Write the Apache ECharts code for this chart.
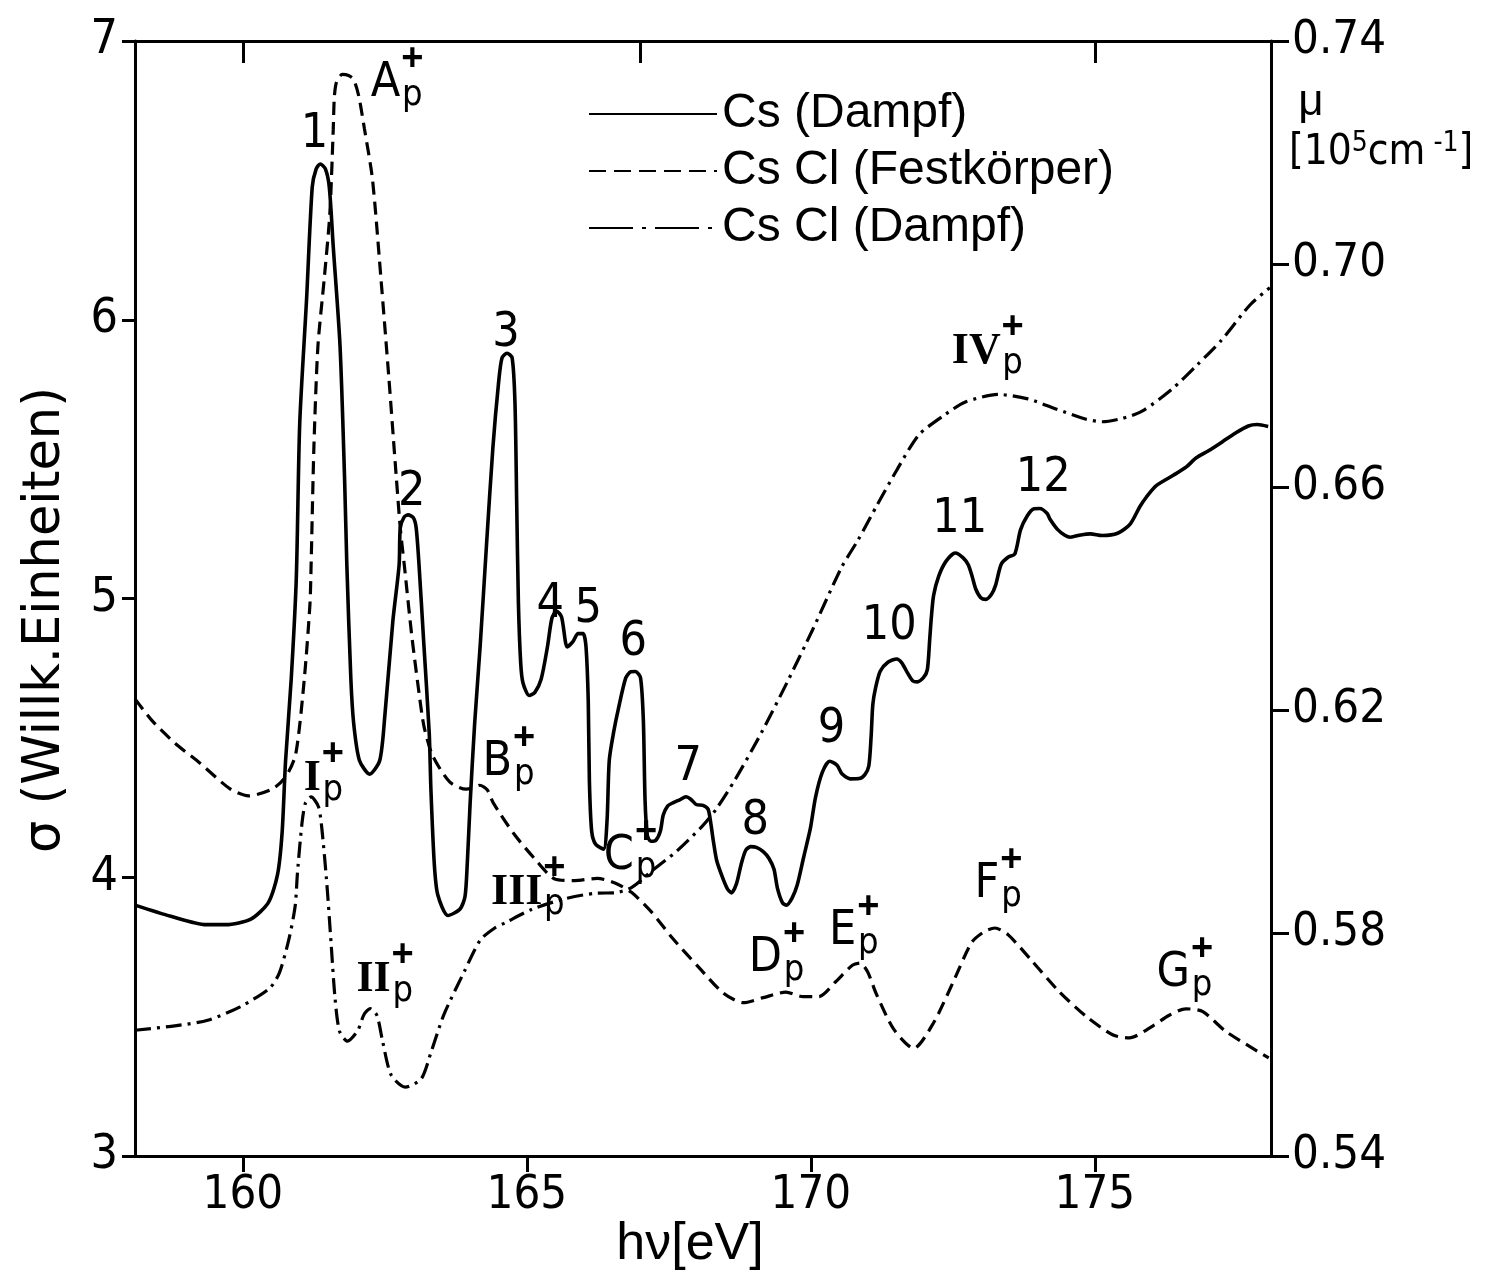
<!DOCTYPE html>
<html>
<head>
<meta charset="utf-8">
<script src="https://cdn.jsdelivr.net/npm/echarts@6/dist/echarts.min.js"></script>
<style>
  html, body { margin: 0; padding: 0; background: #fff; }
  #chart { width: 1493px; height: 1273px; }
</style>
</head>
<body>
<div id="chart"></div>
<script>
// Photon energy hν [eV] and cross section σ (arb. units) of Cs vapour
const energyCs = [158.1, 158.73, 159.35, 159.70, 160.14, 160.45, 160.61, 160.69, 160.75, 160.85,
  160.94, 161.00, 161.12, 161.22, 161.29, 161.36, 161.45, 161.52, 161.59, 161.71,
  161.79, 161.83, 161.90, 161.95, 162.05, 162.23, 162.41, 162.50, 162.64, 162.75,
  162.77, 162.84, 162.91, 163.00, 163.05, 163.10, 163.18, 163.28, 163.31, 163.37,
  163.43, 163.61, 163.82, 163.91, 163.95, 164.00, 164.08, 164.18, 164.29, 164.40,
  164.50, 164.56, 164.65, 164.74, 164.79, 164.82, 164.85, 164.89, 164.93, 165.04,
  165.14, 165.25, 165.36, 165.44, 165.52, 165.61, 165.71, 165.81, 165.90, 165.99,
  166.04, 166.08, 166.10, 166.14, 166.21, 166.35, 166.41, 166.45, 166.53, 166.61,
  166.74, 166.83, 166.91, 167.00, 167.05, 167.08, 167.12, 167.18, 167.27, 167.35,
  167.40, 167.48, 167.57, 167.69, 167.80, 167.89, 167.98, 168.10, 168.19, 168.24,
  168.28, 168.34, 168.44, 168.53, 168.60, 168.69, 168.77, 168.85, 168.94, 169.04,
  169.17, 169.26, 169.35, 169.41, 169.50, 169.57, 169.67, 169.76, 169.87, 169.99,
  170.08, 170.20, 170.33, 170.46, 170.55, 170.69, 170.85, 170.95, 171.02, 171.06,
  171.09, 171.14, 171.22, 171.36, 171.51, 171.60, 171.70, 171.79, 171.87, 171.98,
  172.05, 172.09, 172.12, 172.16, 172.25, 172.38, 172.54, 172.68, 172.77, 172.84,
  172.90, 172.99, 173.08, 173.18, 173.25, 173.35, 173.47, 173.59, 173.69, 173.81,
  173.93, 174.03, 174.16, 174.21, 174.34, 174.47, 174.57, 174.75, 174.92, 175.13,
  175.40, 175.62, 175.79, 175.91, 176.08, 176.38, 176.61, 176.78, 177.00, 177.25,
  177.47, 177.70, 177.86, 178.05];
const sigmaCs = [3.90, 3.86, 3.83, 3.83, 3.85, 3.91, 4.01, 4.16, 4.415, 4.71,
  5.075, 5.627, 6.071, 6.476, 6.541, 6.559, 6.542, 6.477, 6.263, 5.905,
  5.429, 5.118, 4.713, 4.552, 4.42, 4.37, 4.42, 4.583, 4.92, 5.121,
  5.253, 5.293, 5.30, 5.29, 5.254, 5.122, 4.853, 4.517, 4.313, 4.045,
  3.937, 3.863, 3.885, 3.931, 4.05, 4.265, 4.552, 4.839, 5.198, 5.539,
  5.772, 5.862, 5.88, 5.863, 5.70, 5.343, 4.985, 4.77, 4.698, 4.652,
  4.663, 4.71, 4.825, 4.929, 4.955, 4.934, 4.826, 4.845, 4.874, 4.874,
  4.827, 4.63, 4.344, 4.165, 4.118, 4.101, 4.201, 4.42, 4.524, 4.604,
  4.715, 4.737, 4.738, 4.716, 4.562, 4.276, 4.15, 4.129, 4.133, 4.166,
  4.223, 4.256, 4.267, 4.278, 4.289, 4.279, 4.261, 4.258, 4.244, 4.19,
  4.133, 4.061, 4.001, 3.958, 3.944, 3.977, 4.045, 4.096, 4.11, 4.107,
  4.09, 4.068, 4.029, 3.961, 3.908, 3.90, 3.926, 3.973, 4.07, 4.175,
  4.286, 4.376, 4.416, 4.402, 4.37, 4.353, 4.354, 4.368, 4.40, 4.505,
  4.62, 4.681, 4.739, 4.772, 4.783, 4.769, 4.733, 4.705, 4.701, 4.716,
  4.745, 4.849, 4.932, 5.011, 5.08, 5.134, 5.163, 5.146, 5.121, 5.078,
  5.035, 5.003, 4.997, 5.015, 5.047, 5.123, 5.148, 5.16, 5.246, 5.297,
  5.322, 5.323, 5.305, 5.284, 5.248, 5.227, 5.22, 5.228, 5.232, 5.226,
  5.234, 5.267, 5.329, 5.365, 5.405, 5.442, 5.472, 5.504, 5.53, 5.563,
  5.593, 5.619, 5.624, 5.617];

// CsCl solid: absorption coefficient μ [10^5 cm^-1]
const energyCsClSolid = [158.1, 158.40, 158.81, 159.24, 159.78, 160.10, 160.53, 160.76, 160.93, 161.08,
  161.18, 161.20, 161.25, 161.32, 161.43, 161.53, 161.59, 161.61, 161.65, 161.75,
  161.86, 161.95, 162.04, 162.14, 162.28, 162.43, 162.57, 162.68, 162.77, 162.84,
  162.98, 163.15, 163.20, 163.34, 163.64, 163.93, 164.07, 164.17, 164.30, 164.41,
  164.77, 165.13, 165.49, 165.84, 166.24, 166.54, 166.84, 167.20, 167.56, 168.03,
  168.46, 168.81, 169.16, 169.56, 169.86, 170.14, 170.44, 170.73, 170.87, 171.00,
  171.15, 171.46, 171.81, 172.16, 172.50, 172.83, 173.06, 173.24, 173.47, 173.90,
  174.36, 174.85, 175.32, 175.61, 176.03, 176.30, 176.60, 176.90, 177.31, 178.06];
const muCsClSolid = [0.6220, 0.6181, 0.6140, 0.6105, 0.6058, 0.6046, 0.6059, 0.6081, 0.6121, 0.6255,
  0.6390, 0.6458, 0.6673, 0.6852, 0.6972, 0.7090, 0.7241, 0.7300, 0.7327, 0.7340,
  0.7338, 0.7331, 0.7301, 0.7242, 0.7153, 0.6974, 0.6795, 0.6645, 0.6527, 0.6461,
  0.6327, 0.6193, 0.6165, 0.6118, 0.6071, 0.6058, 0.6061, 0.6065, 0.6057, 0.6033,
  0.5978, 0.5934, 0.5897, 0.5894, 0.5898, 0.5890, 0.5873, 0.5837, 0.5791, 0.5738,
  0.5692, 0.5675, 0.5684, 0.5694, 0.5686, 0.5686, 0.5713, 0.5742, 0.5746, 0.5730,
  0.5691, 0.5627, 0.5593, 0.5639, 0.5711, 0.5783, 0.5803, 0.5809, 0.5797, 0.5749,
  0.5696, 0.5650, 0.5617, 0.5612, 0.5634, 0.5652, 0.5664, 0.5659, 0.5623, 0.5576];

// CsCl vapour: cross section σ (arb. units)
const energyCsClVapour = [158.1, 158.80, 159.38, 159.95, 160.47, 160.64, 160.81, 160.92, 160.96, 161.04,
  161.10, 161.20, 161.33, 161.39, 161.48, 161.55, 161.62, 161.70, 161.84, 162.02,
  162.13, 162.24, 162.36, 162.46, 162.61, 162.86, 163.14, 163.31, 163.54, 163.90,
  164.18, 164.44, 164.62, 165.09, 165.67, 166.24, 166.54, 166.84, 167.19, 167.64,
  168.10, 168.33, 168.67, 169.13, 169.59, 170.03, 170.54, 170.83, 171.17, 171.51,
  171.90, 172.37, 172.72, 173.30, 173.82, 174.30, 174.83, 175.13, 175.48, 175.83,
  176.35, 176.80, 177.22, 177.73, 178.08];
const sigmaCsClVapour = [3.451, 3.467, 3.487, 3.535, 3.602, 3.656, 3.778, 3.897, 4.015, 4.194,
  4.266, 4.288, 4.253, 4.174, 3.97, 3.77, 3.57, 3.448, 3.412, 3.449,
  3.507, 3.529, 3.504, 3.411, 3.29, 3.247, 3.277, 3.371, 3.508, 3.663,
  3.775, 3.819, 3.837, 3.885, 3.923, 3.943, 3.944, 3.963, 4.021, 4.094,
  4.186, 4.244, 4.352, 4.519, 4.703, 4.888, 5.112, 5.21, 5.337, 5.46,
  5.587, 5.661, 5.705, 5.732, 5.716, 5.681, 5.644, 5.634, 5.646, 5.672,
  5.75, 5.838, 5.925, 6.053, 6.115];

// Axis ticks
const energyTicks = [160, 165, 170, 175];
const energyTopTicks = [160, 167, 175];
const sigmaTicks = [3, 4, 5, 6, 7];
const muTicks = [0.54, 0.58, 0.62, 0.66, 0.70, 0.74];

// Numbered Cs resonances (label anchor in hν, σ)
const peakNames = ['1', '2', '3', '4', '5', '6', '7', '8', '9', '10', '11', '12'];
const peakX = [161.26, 162.97, 164.63, 165.41, 166.08, 166.87, 167.84, 169.02, 170.36, 171.38, 172.62, 174.09];
const peakY = [6.663, 5.379, 5.952, 4.98, 4.96, 4.841, 4.393, 4.199, 4.531, 4.901, 5.282, 5.431];

// CsCl structures (label anchor in hν, σ)
const bandNames = ['A', 'B', 'C', 'D', 'E', 'F', 'G', 'I', 'II', 'III', 'IV'];
const bandX = [162.51, 164.48, 166.62, 169.20, 170.56, 173.10, 176.38, 161.22, 162.30, 164.82, 172.91];
const bandY = [6.846, 4.41, 4.076, 3.709, 3.804, 3.973, 3.654, 4.353, 3.632, 3.945, 5.886];

const NUM_FONT = "'DejaVu Sans Condensed', 'Liberation Sans Narrow', 'Liberation Sans', sans-serif";
const TEXT_FONT = "'Liberation Sans', 'DejaVu Sans', sans-serif";
const ROMAN_FONT = "'Liberation Serif', 'DejaVu Serif', serif";
const INK = '#000';

const zip = (xs, ys) => xs.map((x, i) => [x, ys[i]]);
const measureCtx = document.createElement('canvas').getContext('2d');
const textWidth = (text, font) => { measureCtx.font = font; return measureCtx.measureText(text).width; };

const isRoman = name => /^[IV]+$/.test(name);
const bandStyle = name => isRoman(name)
  ? { fontFamily: ROMAN_FONT, fontSize: 44, fontWeight: 'bold' }
  : { fontFamily: NUM_FONT, fontSize: 48, fontWeight: 'normal' };

const bandLetters = bandNames.map((n, i) => ({
  name: n, value: [bandX[i], bandY[i]], label: bandStyle(n)
}));
const bandIndices = bandNames.map((n, i) => {
  const s = bandStyle(n);
  const w = textWidth(n, `${s.fontWeight} ${s.fontSize}px ${s.fontFamily}`);
  return { name: n, value: [bandX[i], bandY[i]], label: { offset: [w / 2 + 12, -6] } };
});

// invisible anchor used by the text-only scatter series
const anchorItem = { color: 'rgba(0,0,0,0)', opacity: 1 };

const chart = echarts.init(document.getElementById('chart'), null, { renderer: 'canvas' });

const axisLine = { show: true, onZero: false, lineStyle: { color: INK, width: 3 } };
const tickStyle = { color: INK, width: 3 };

chart.setOption({
  animation: false,
  backgroundColor: '#fff',
  grid: { left: 135, right: 222, top: 41, bottom: 117, containLabel: false },
  legend: {
    orient: 'vertical', left: 588, top: 89, padding: 0,
    itemWidth: 128, itemHeight: 4, itemGap: 7,
    selectedMode: false,
    itemStyle: { opacity: 0, borderWidth: 0 },
    textStyle: { fontFamily: TEXT_FONT, fontSize: 48, color: INK, lineHeight: 50 },
    data: [
      { name: 'Cs (Dampf)' },
      { name: 'Cs Cl (Festkörper)', lineStyle: { type: [17, 8] } },
      { name: 'Cs Cl (Dampf)', lineStyle: { type: [44, 9, 4, 9] } }
    ]
  },
  xAxis: [
    {
      type: 'value', position: 'bottom', min: 158.1, max: 178.1,
      axisLine, splitLine: { show: false },
      axisTick: { show: true, inside: false, length: 16, lineStyle: tickStyle, customValues: energyTicks },
      axisLabel: { customValues: energyTicks, fontFamily: NUM_FONT, fontSize: 47, color: INK, margin: 16 }
    },
    {
      type: 'value', position: 'top', min: 158.1, max: 178.1,
      axisLine, splitLine: { show: false },
      axisTick: { show: true, inside: true, length: 22, lineStyle: tickStyle, customValues: energyTopTicks },
      axisLabel: { show: false }
    }
  ],
  yAxis: [
    {
      type: 'value', position: 'left', min: 3, max: 7, interval: 1,
      axisLine, splitLine: { show: false },
      axisTick: { show: true, inside: false, length: 13, lineStyle: tickStyle, customValues: sigmaTicks },
      axisLabel: { customValues: sigmaTicks, fontFamily: NUM_FONT, fontSize: 48, color: INK, margin: 17 }
    },
    {
      type: 'value', position: 'right', min: 0.54, max: 0.74,
      axisLine, splitLine: { show: false },
      axisTick: { show: true, inside: false, length: 18, lineStyle: tickStyle, customValues: muTicks },
      axisLabel: {
        customValues: muTicks, formatter: v => v.toFixed(2),
        fontFamily: NUM_FONT, fontSize: 47, color: INK, margin: 21
      }
    }
  ],
  series: [
    {
      name: 'Cs (Dampf)', type: 'line', xAxisIndex: 0, yAxisIndex: 0,
      data: zip(energyCs, sigmaCs), showSymbol: false, symbol: 'none', smooth: 0.25,
      lineStyle: { color: INK, width: 3.6, type: 'solid' }, itemStyle: { color: INK },
      emphasis: { disabled: true }, z: 3
    },
    {
      name: 'Cs Cl (Festkörper)', type: 'line', xAxisIndex: 0, yAxisIndex: 1,
      data: zip(energyCsClSolid, muCsClSolid), showSymbol: false, symbol: 'none', smooth: 0.25,
      lineStyle: { color: INK, width: 3.2, type: [13, 7] }, itemStyle: { color: INK },
      emphasis: { disabled: true }, z: 3
    },
    {
      name: 'Cs Cl (Dampf)', type: 'line', xAxisIndex: 0, yAxisIndex: 0,
      data: zip(energyCsClVapour, sigmaCsClVapour), showSymbol: false, symbol: 'none', smooth: 0.25,
      lineStyle: { color: INK, width: 3.2, type: [16, 6, 3, 6] }, itemStyle: { color: INK },
      emphasis: { disabled: true }, z: 3
    },
    {
      name: 'peaks', type: 'scatter', xAxisIndex: 0, yAxisIndex: 0,
      symbol: 'circle', symbolSize: 1, itemStyle: anchorItem,
      silent: true, emphasis: { disabled: true }, z: 5,
      label: { show: true, position: 'inside', formatter: p => p.name,
               fontFamily: NUM_FONT, fontSize: 48, color: INK },
      data: peakNames.map((n, i) => ({ name: n, value: [peakX[i], peakY[i]] }))
    },
    {
      name: 'bands', type: 'scatter', xAxisIndex: 0, yAxisIndex: 0,
      symbol: 'circle', symbolSize: 1, itemStyle: anchorItem,
      silent: true, emphasis: { disabled: true }, z: 5,
      label: { show: true, position: 'inside', formatter: p => p.name, color: INK },
      data: bandLetters
    },
    {
      name: 'bandIndices', type: 'scatter', xAxisIndex: 0, yAxisIndex: 0,
      symbol: 'circle', symbolSize: 1, itemStyle: anchorItem,
      silent: true, emphasis: { disabled: true }, z: 5,
      label: {
        show: true, position: 'inside', align: 'center', color: INK,
        formatter: () => '{plus|+}\n{sub|p}',
        rich: {
          plus: { fontFamily: TEXT_FONT, fontSize: 38, fontWeight: 'bold', lineHeight: 36, color: INK },
          sub: { fontFamily: NUM_FONT, fontSize: 36, lineHeight: 36, color: INK }
        }
      },
      data: bandIndices
    }
  ],
  graphic: [
    {
      type: 'text', x: 46, y: 620, rotation: Math.PI / 2, silent: true,
      style: { text: 'σ (Willk.Einheiten)', fontFamily: "'DejaVu Sans', sans-serif", fontSize: 51,
               fill: INK, align: 'center', verticalAlign: 'middle' }
    },
    {
      type: 'text', x: 690, y: 1245, silent: true,
      style: { text: 'hν[eV]', fontFamily: TEXT_FONT, fontSize: 52,
               fill: INK, align: 'center', verticalAlign: 'middle' }
    },
    {
      type: 'text', x: 1311, y: 103, silent: true,
      style: { text: 'μ', fontFamily: TEXT_FONT, fontSize: 44,
               fill: INK, align: 'center', verticalAlign: 'middle' }
    },
    {
      type: 'text', x: 1289, y: 153, silent: true,
      style: {
        text: '{b|[10}{s|5}{b|cm}{s| -1}{b|]}',
        align: 'left', verticalAlign: 'middle', fill: INK,
        rich: {
          b: { fontFamily: NUM_FONT, fontSize: 42, lineHeight: 46, fill: INK },
          s: { fontFamily: NUM_FONT, fontSize: 28, verticalAlign: 'top', lineHeight: 46, padding: [0, 0, 16, 0], fill: INK }
        }
      }
    }
  ]
});
</script>
</body>
</html>
